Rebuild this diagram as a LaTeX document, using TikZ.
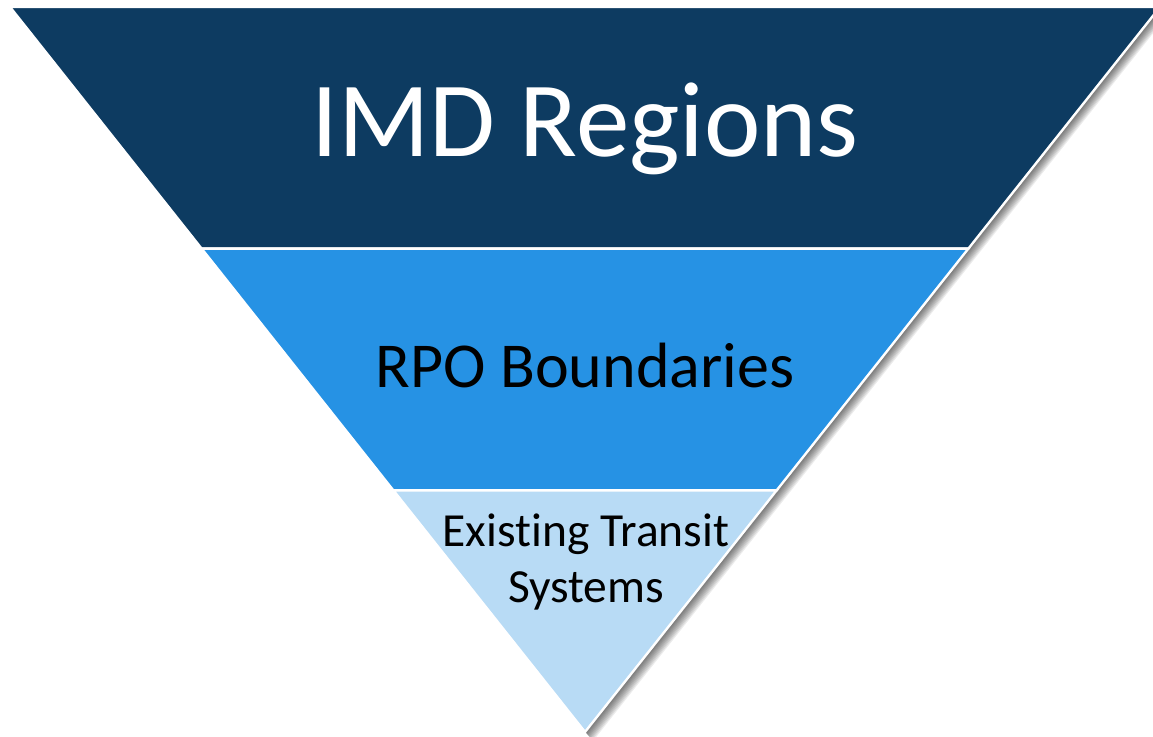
\documentclass[tikz,border=0pt]{standalone}
\usepackage{fontspec}
\setmainfont{Carlito}[Ligatures=NoCommon]
\usetikzlibrary{calc}
\definecolor{bandtop}{RGB}{13,59,97}
\definecolor{bandmid}{RGB}{38,146,228}
\definecolor{bandlow}{RGB}{184,219,245}
\tikzset{
  band/.style={draw=white, line width=2.4pt, line join=miter},
  shadowlayer/.style={fill=black, fill opacity=0.075, draw=none},
  label/.style={inner sep=0pt, anchor=base}
}
\begin{document}
\begin{tikzpicture}[x=1pt,y=1pt]
\useasboundingbox (0,0) rectangle (1153,736);
\clip (0,0) rectangle (1153,736);
\coordinate (A) at (10,729);
\coordinate (B) at (1160,729);
\coordinate (C) at (585,4);
\coordinate (L1) at ($(A)!0.3333!(C)$);
\coordinate (R1) at ($(B)!0.3333!(C)$);
\coordinate (L2) at ($(A)!0.6667!(C)$);
\coordinate (R2) at ($(B)!0.6667!(C)$);
% shadow
\foreach \d in {1,...,10}{
  \fill[shadowlayer] ($(A)+(\d*0.3,\d*0.1)$) -- ($(B)+(\d*1.0,-\d*0.5)$) -- ($(C)+(\d*0.8,-\d*0.9)$) -- cycle;
}
% bands
\filldraw[band, fill=bandtop] (A) -- (B) -- (R1) -- (L1) -- cycle;
\filldraw[band, fill=bandmid] (L1) -- (R1) -- (R2) -- (L2) -- cycle;
\filldraw[band, fill=bandlow] (L2) -- (R2) -- (C) -- cycle;
% labels
\node[label, text=white, font=\fontsize{107}{128}\selectfont] (imd) at (585,579) {IMD Regions};
\node[label, text=black, font=\fontsize{64}{77}\selectfont] (rpo) at (585,348) {RPO Boundaries};
\node[label, text=black, font=\fontsize{47.5}{56}\selectfont, align=center] (ets) at (586,133) {Existing Transit\\Systems};
\end{tikzpicture}
\end{document}
